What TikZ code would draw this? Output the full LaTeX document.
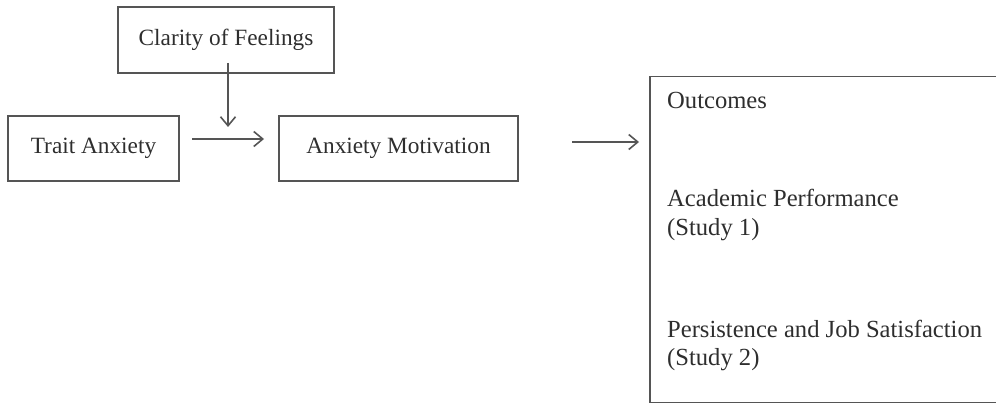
\documentclass[tikz,border=0pt]{standalone}
\usepackage{fontspec}
\setmainfont{Liberation Serif}
\usetikzlibrary{arrows.meta,positioning}
\definecolor{linegray}{HTML}{555555}
\definecolor{textgray}{HTML}{2E2E2E}
\begin{document}
\begin{tikzpicture}[x=1pt,y=-1pt,
  box/.style={draw=linegray, line width=1.5pt, rectangle, inner sep=0pt,
    text=textgray, font=\fontsize{23.3}{26}\selectfont},
  label/.style={text=textgray, font=\fontsize{24.6}{28}\selectfont, anchor=west, inner sep=0pt},
  link/.style={draw=linegray, line width=1.6pt,
    -{Straight Barb[length=9pt,width=15pt,line width=1.6pt]}}]
\useasboundingbox (0,0) rectangle (996,403);
% predictor, moderator and mediator boxes
\node[box, minimum width=216pt, minimum height=66pt] (clarity) at (226,40) {Clarity of Feelings};
\node[box, minimum width=171pt, minimum height=65pt] (trait) at (93.5,148.5) {Trait Anxiety};
\node[box, minimum width=239pt, minimum height=65pt] (motiv) at (398.5,148.5) {Anxiety Motivation};
% outcomes panel (runs off the right edge)
\node[draw=linegray, line width=1.5pt, rectangle, minimum width=360pt, minimum height=326pt, anchor=north west] (outcomes) at (649,76) {};
\node[label] (outtitle) at (667,100) {Outcomes};
\node[label] (acad) at (667,198) {Academic Performance};
\node[label] (study1) at (667,230) {(Study 1)};
\node[label] (persist) at (667,329) {Persistence and Job Satisfaction};
\node[label] (study2) at (667,360) {(Study 2)};
% connectors
\coordinate (tstart) at (192,139);
\coordinate (tend) at (264,139);
\coordinate (cstart) at (228,63);
\coordinate (cend) at (228,127);
\coordinate (mstart) at (572,142);
\coordinate (mend) at (639,142);
\draw[link] (tstart) -- (tend);
\draw[link] (cstart) -- (cend);
\draw[link] (mstart) -- (mend);
\end{tikzpicture}
\end{document}
